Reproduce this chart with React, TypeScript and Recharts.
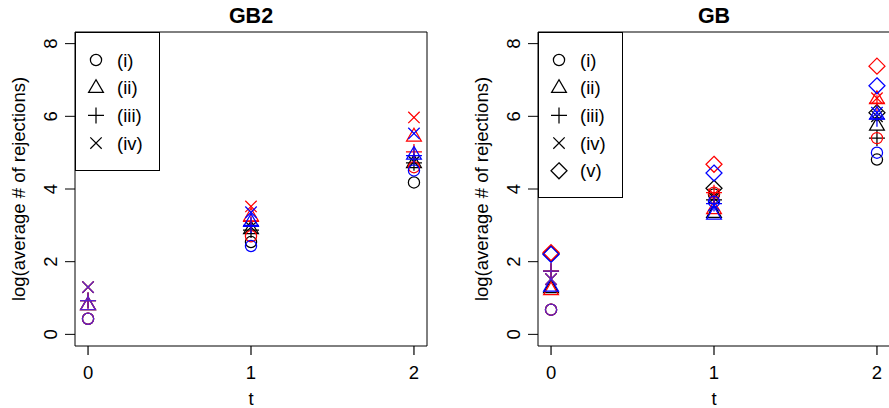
import React from "react";
import { ScatterChart, Scatter, XAxis, YAxis, ReferenceArea, Legend } from "recharts";

// ---------- data ----------
const tValues = [0, 1, 2];
const xTicks = [0, 1, 2];
const yTicks = [0, 2, 4, 6, 8];
const symbolKinds = ["circle", "triangle", "plus", "cross", "diamond"];
const symbolLabels = ["(i)", "(ii)", "(iii)", "(iv)", "(v)"];

// GB2 panel: one row per symbol (i)-(iv), values at t = 0, 1, 2
const gb2Black = [
  [0.43, 2.54, 4.18],
  [0.81, 2.9, 4.72],
  [0.93, 2.87, 4.72],
  [1.3, 2.95, 4.75],
];
const gb2Red = [
  [0.43, 2.7, 4.6],
  [0.81, 3.25, 5.45],
  [0.93, 3.11, 5.02],
  [1.3, 3.52, 5.97],
];
const gb2Blue = [
  [0.43, 2.43, 4.51],
  [0.81, 3.1, 4.95],
  [0.93, 3.0, 4.92],
  [1.3, 3.36, 5.53],
];

// GB panel: one row per symbol (i)-(v)
const gbBlack = [
  [0.68, 3.85, 4.81],
  [1.28, 3.35, 5.75],
  [1.74, 3.7, 5.4],
  [1.52, 3.75, 6.0],
  [2.22, 4.02, 6.1],
];
const gbRed = [
  [0.68, 3.9, 5.4],
  [1.22, 3.45, 6.48],
  [1.74, 3.9, 6.36],
  [1.52, 3.85, 6.5],
  [2.25, 4.68, 7.38],
];
const gbBlue = [
  [0.68, 3.65, 5.0],
  [1.32, 3.3, 6.05],
  [1.74, 3.6, 5.93],
  [1.52, 3.55, 6.1],
  [2.2, 4.44, 6.84],
];

// ---------- styling ----------
const FONT = "'Liberation Sans', Arial, Helvetica, sans-serif";
const FS = 18.5;
const COLORS: Record<string, string> = { black: "#000000", red: "#ff0000", blue: "#0000ff" };
const PURPLE = "#5a20d0";
const SW = 1.25;

function Sym({ kind, cx, cy, color }: { kind: string; cx: number; cy: number; color: string }) {
  const common = { fill: "none", stroke: color, strokeWidth: SW };
  switch (kind) {
    case "circle":
      return <circle cx={cx} cy={cy} r={5.6} {...common} />;
    case "triangle":
      return (
        <polygon
          points={`${cx},${cy - 8} ${cx - 7.4},${cy + 4.7} ${cx + 7.4},${cy + 4.7}`}
          {...common}
        />
      );
    case "plus":
      return <path d={`M${cx - 8},${cy}H${cx + 8}M${cx},${cy - 8}V${cy + 8}`} {...common} />;
    case "cross":
      return (
        <path
          d={`M${cx - 5.7},${cy - 5.7}L${cx + 5.7},${cy + 5.7}M${cx - 5.7},${cy + 5.7}L${cx + 5.7},${cy - 5.7}`}
          {...common}
        />
      );
    default:
      return (
        <polygon
          points={`${cx},${cy - 8} ${cx + 8},${cy} ${cx},${cy + 8} ${cx - 8},${cy}`}
          {...common}
        />
      );
  }
}

function XTick(props: any) {
  const { x, y, payload } = props;
  return (
    <text x={x} y={y + 21.5} textAnchor="middle" fontSize={FS} fontFamily={FONT} fill="#000">
      {payload.value}
    </text>
  );
}

function YTick(props: any) {
  const { x, y, payload } = props;
  return (
    <text
      x={x}
      y={y}
      transform={`rotate(-90 ${x} ${y})`}
      textAnchor="middle"
      fontSize={FS}
      fontFamily={FONT}
      fill="#000"
    >
      {payload.value}
    </text>
  );
}

function LegendBox({ n, height }: { n: number; height: number }) {
  return (
    <div
      style={{
        width: 85,
        height,
        border: "1px solid #000",
        boxSizing: "border-box",
        background: "#fff",
      }}
    >
      <svg width={83} height={height - 2} style={{ display: "block" }}>
        {symbolKinds.slice(0, n).map((k, i) => {
          const cy = 27 + i * 27.7;
          return (
            <g key={k}>
              <Sym kind={k} cx={20} cy={cy} color="#000" />
              <text x={41} y={cy + 6.6} fontSize={FS} fontFamily={FONT} fill="#000">
                {symbolLabels[i]}
              </text>
            </g>
          );
        })}
      </svg>
    </div>
  );
}

function Panel({
  left,
  title,
  black,
  red,
  blue,
  legendHeight,
}: {
  left: number;
  title: string;
  black: number[][];
  red: number[][];
  blue: number[][];
  legendHeight: number;
}) {
  const n = black.length;
  const groups: { method: string; vals: number[][] }[] = [
    { method: "black", vals: black },
    { method: "red", vals: red },
    { method: "blue", vals: blue },
  ];
  const series = groups.flatMap((g) =>
    g.vals.map((row, k) => ({
      key: `${g.method}-${k}`,
      kind: symbolKinds[k],
      method: g.method,
      data: tValues.map((t, i) => ({
        t,
        v: row[i],
        overlap: g.method === "blue" && Math.abs(row[i] - red[k][i]) < 0.03,
      })),
    }))
  );

  return (
    <div style={{ position: "absolute", left, top: 0, width: 440, height: 408 }}>
      <ScatterChart width={440} height={408} margin={{ top: 32, right: 13, bottom: 0, left: 0 }}>
        <XAxis
          type="number"
          dataKey="t"
          domain={[-0.08, 2.08]}
          ticks={xTicks}
          axisLine={false}
          tickLine={{ stroke: "#000", strokeWidth: 1.2 }}
          tickSize={9}
          tick={<XTick />}
          height={62}
          allowDataOverflow
        />
        <YAxis
          type="number"
          dataKey="v"
          domain={[-0.32, 8.32]}
          ticks={yTicks}
          axisLine={false}
          tickLine={{ stroke: "#000", strokeWidth: 1 }}
          tickSize={10}
          tickMargin={8}
          width={75}
          tick={<YTick />}
          allowDataOverflow
        />
        <ReferenceArea
          x1={-0.08}
          x2={2.08}
          y1={-0.32}
          y2={8.32}
          fill="none"
          fillOpacity={0}
          stroke="#000"
          strokeWidth={1}
          ifOverflow="visible"
        />
        {series.map((s) => (
          <Scatter
            key={s.key}
            data={s.data}
            isAnimationActive={false}
            shape={(p: any) => (
              <Sym
                kind={s.kind}
                cx={p.cx}
                cy={p.cy}
                color={p.payload && p.payload.overlap ? PURPLE : COLORS[s.method]}
              />
            )}
          />
        ))}
        <Legend
          layout="horizontal"
          verticalAlign="middle"
          align="center"
          wrapperStyle={{ left: 75, top: 32, width: 85, height: legendHeight, margin: 0, padding: 0 }}
          content={() => <LegendBox n={n} height={legendHeight} />}
        />
      </ScatterChart>
      <svg
        width={440}
        height={408}
        style={{ position: "absolute", left: 0, top: 0, pointerEvents: "none" }}
      >
        <text x={251} y={22.5} textAnchor="middle" fontSize={21.5} fontWeight="bold" fontFamily={FONT} fill="#000">
          {title}
        </text>
        <text x={251} y={405} textAnchor="middle" fontSize={FS} fontFamily={FONT} fill="#000">
          t
        </text>
        <text
          x={24.5}
          y={189}
          transform={`rotate(-90 24.5 189)`}
          textAnchor="middle"
          fontSize={FS}
          fontFamily={FONT}
          fill="#000"
        >
          log(average # of rejections)
        </text>
      </svg>
    </div>
  );
}

export default function App() {
  return (
    <div
      style={{
        position: "absolute",
        left: 0,
        top: 0,
        width: 889,
        height: 408,
        overflow: "hidden",
        background: "#fff",
        fontFamily: FONT,
      }}
    >
      <Panel left={0} title="GB2" black={gb2Black} red={gb2Red} blue={gb2Blue} legendHeight={139} />
      <Panel left={463} title="GB" black={gbBlack} red={gbRed} blue={gbBlue} legendHeight={166} />
    </div>
  );
}
